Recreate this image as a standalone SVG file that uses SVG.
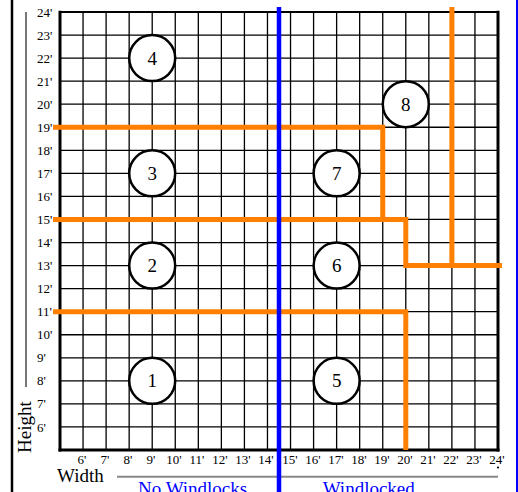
<svg xmlns="http://www.w3.org/2000/svg" width="518" height="492" viewBox="0 0 518 492">
<style>
.t{font-family:"Liberation Serif","Times New Roman",serif;fill:#000}
.rl{font-size:13px}
.cl{font-size:13px;text-anchor:middle}
.big{font-size:19px}
.blue{font-size:19px;fill:#0000ff}
.grid{stroke:#000;stroke-width:1.3;fill:none}
.bord{stroke:#000;stroke-width:3;fill:none}
.or{stroke:#ff8000;stroke-width:5;fill:none;stroke-linejoin:miter}
.node circle{fill:#fff;stroke:#000;stroke-width:2.5}
.node text{font-family:"Liberation Serif","Times New Roman",serif;font-size:19px;text-anchor:middle;fill:#000}
</style>
<rect width="518" height="492" fill="#fff"/>
<!-- frame lines -->
<line x1="12" y1="0" x2="12" y2="492" stroke="#000" stroke-width="2.5"/>
<line x1="517" y1="0" x2="517" y2="492" stroke="#0000ff" stroke-width="2"/>
<line x1="26" y1="12" x2="26" y2="387" stroke="#777" stroke-width="2"/>
<line x1="117" y1="476.7" x2="498" y2="476.7" stroke="#888" stroke-width="2"/>
<!-- grid -->
<g id="grid">
<path class="grid" d="M83.05 12V450M106.11 12V450M129.16 12V450M152.21 12V450M175.26 12V450M198.32 12V450M221.37 12V450M244.42 12V450M267.47 12V450M290.53 12V450M313.58 12V450M336.63 12V450M359.68 12V450M382.74 12V450M405.79 12V450M428.84 12V450M451.89 12V450M474.95 12V450
M60 426.95H498M60 403.89H498M60 380.84H498M60 357.79H498M60 334.74H498M60 311.68H498M60 288.63H498M60 265.58H498M60 242.53H498M60 219.47H498M60 196.42H498M60 173.37H498M60 150.32H498M60 127.26H498M60 104.21H498M60 81.16H498M60 58.11H498M60 35.05H498"/>
<line x1="60" y1="12" x2="498" y2="12" stroke="#000" stroke-width="2.2"/>
<line x1="60" y1="10.8" x2="60" y2="451.5" class="bord"/>
<line x1="498" y1="10.8" x2="498" y2="451.5" class="bord"/>
<line x1="58.5" y1="450" x2="499.5" y2="450" class="bord"/>
</g>
<!-- row labels -->
<g id="row-labels" class="t rl">
<text x="37" y="16.5">24'</text>
<text x="37" y="39.5">23'</text>
<text x="37" y="62.6">22'</text>
<text x="37" y="85.7">21'</text>
<text x="37" y="108.7">20'</text>
<text x="37" y="131.8">19'</text>
<text x="37" y="154.8">18'</text>
<text x="37" y="177.9">17'</text>
<text x="37" y="200.9">16'</text>
<text x="37" y="224">15'</text>
<text x="37" y="247">14'</text>
<text x="37" y="270.1">13'</text>
<text x="37" y="293.1">12'</text>
<text x="37" y="316.2">11'</text>
<text x="37" y="339.2">10'</text>
<text x="37" y="362.3">9'</text>
<text x="37" y="385.3">8'</text>
<text x="37" y="408.4">7'</text>
<text x="37" y="431.5">6'</text>
</g>
<!-- column labels -->
<g id="col-labels" class="t cl">
<text x="82" y="463.5">6'</text>
<text x="105" y="463.5">7'</text>
<text x="128" y="463.5">8'</text>
<text x="151" y="463.5">9'</text>
<text x="174" y="463.5">10'</text>
<text x="197" y="463.5">11'</text>
<text x="220" y="463.5">12'</text>
<text x="243" y="463.5">13'</text>
<text x="266" y="463.5">14'</text>
<text x="290" y="463.5">15'</text>
<text x="313" y="463.5">16'</text>
<text x="336" y="463.5">17'</text>
<text x="359" y="463.5">18'</text>
<text x="382" y="463.5">19'</text>
<text x="405" y="463.5">20'</text>
<text x="428" y="463.5">21'</text>
<text x="451" y="463.5">22'</text>
<text x="474" y="463.5">23'</text>
<text x="497" y="463.5">24'</text>
</g>
<circle cx="498" cy="467.5" r="1.1" fill="#000"/>
<!-- axis titles -->
<text class="t big" x="57" y="482">Width</text>
<text class="t big" transform="translate(30.5,453) rotate(-90)">Height</text>
<text class="t blue" x="138" y="494.5">No Windlocks</text>
<text class="t blue" x="322.7" y="494.5">Windlocked</text>
<!-- connectors -->
<g id="connectors">
<polyline class="or" points="53,127.26 382.74,127.26 382.74,219.47"/>
<polyline class="or" points="53,219.47 405.79,219.47 405.79,265.58 502,265.58"/>
<polyline class="or" points="451.89,7 451.89,265.58"/>
<polyline class="or" points="53,311.68 405.79,311.68 405.79,450"/>
<line x1="279" y1="7" x2="279" y2="492" stroke="#0000ff" stroke-width="4.5"/>
</g>
<!-- nodes -->
<g id="node1" class="node"><circle cx="152.21" cy="380.84" r="23"/><text x="152.21" y="387.3">1</text></g>
<g id="node2" class="node"><circle cx="152.21" cy="265.58" r="23"/><text x="152.21" y="272">2</text></g>
<g id="node3" class="node"><circle cx="152.21" cy="173.37" r="23"/><text x="152.21" y="179.8">3</text></g>
<g id="node4" class="node"><circle cx="152.21" cy="58.11" r="23"/><text x="152.21" y="64.5">4</text></g>
<g id="node5" class="node"><circle cx="336.63" cy="380.84" r="23"/><text x="336.63" y="387.3">5</text></g>
<g id="node6" class="node"><circle cx="336.63" cy="265.58" r="23"/><text x="336.63" y="272">6</text></g>
<g id="node7" class="node"><circle cx="336.63" cy="173.37" r="23"/><text x="336.63" y="179.8">7</text></g>
<g id="node8" class="node"><circle cx="405.79" cy="104.21" r="23"/><text x="405.79" y="110.6">8</text></g>
</svg>
